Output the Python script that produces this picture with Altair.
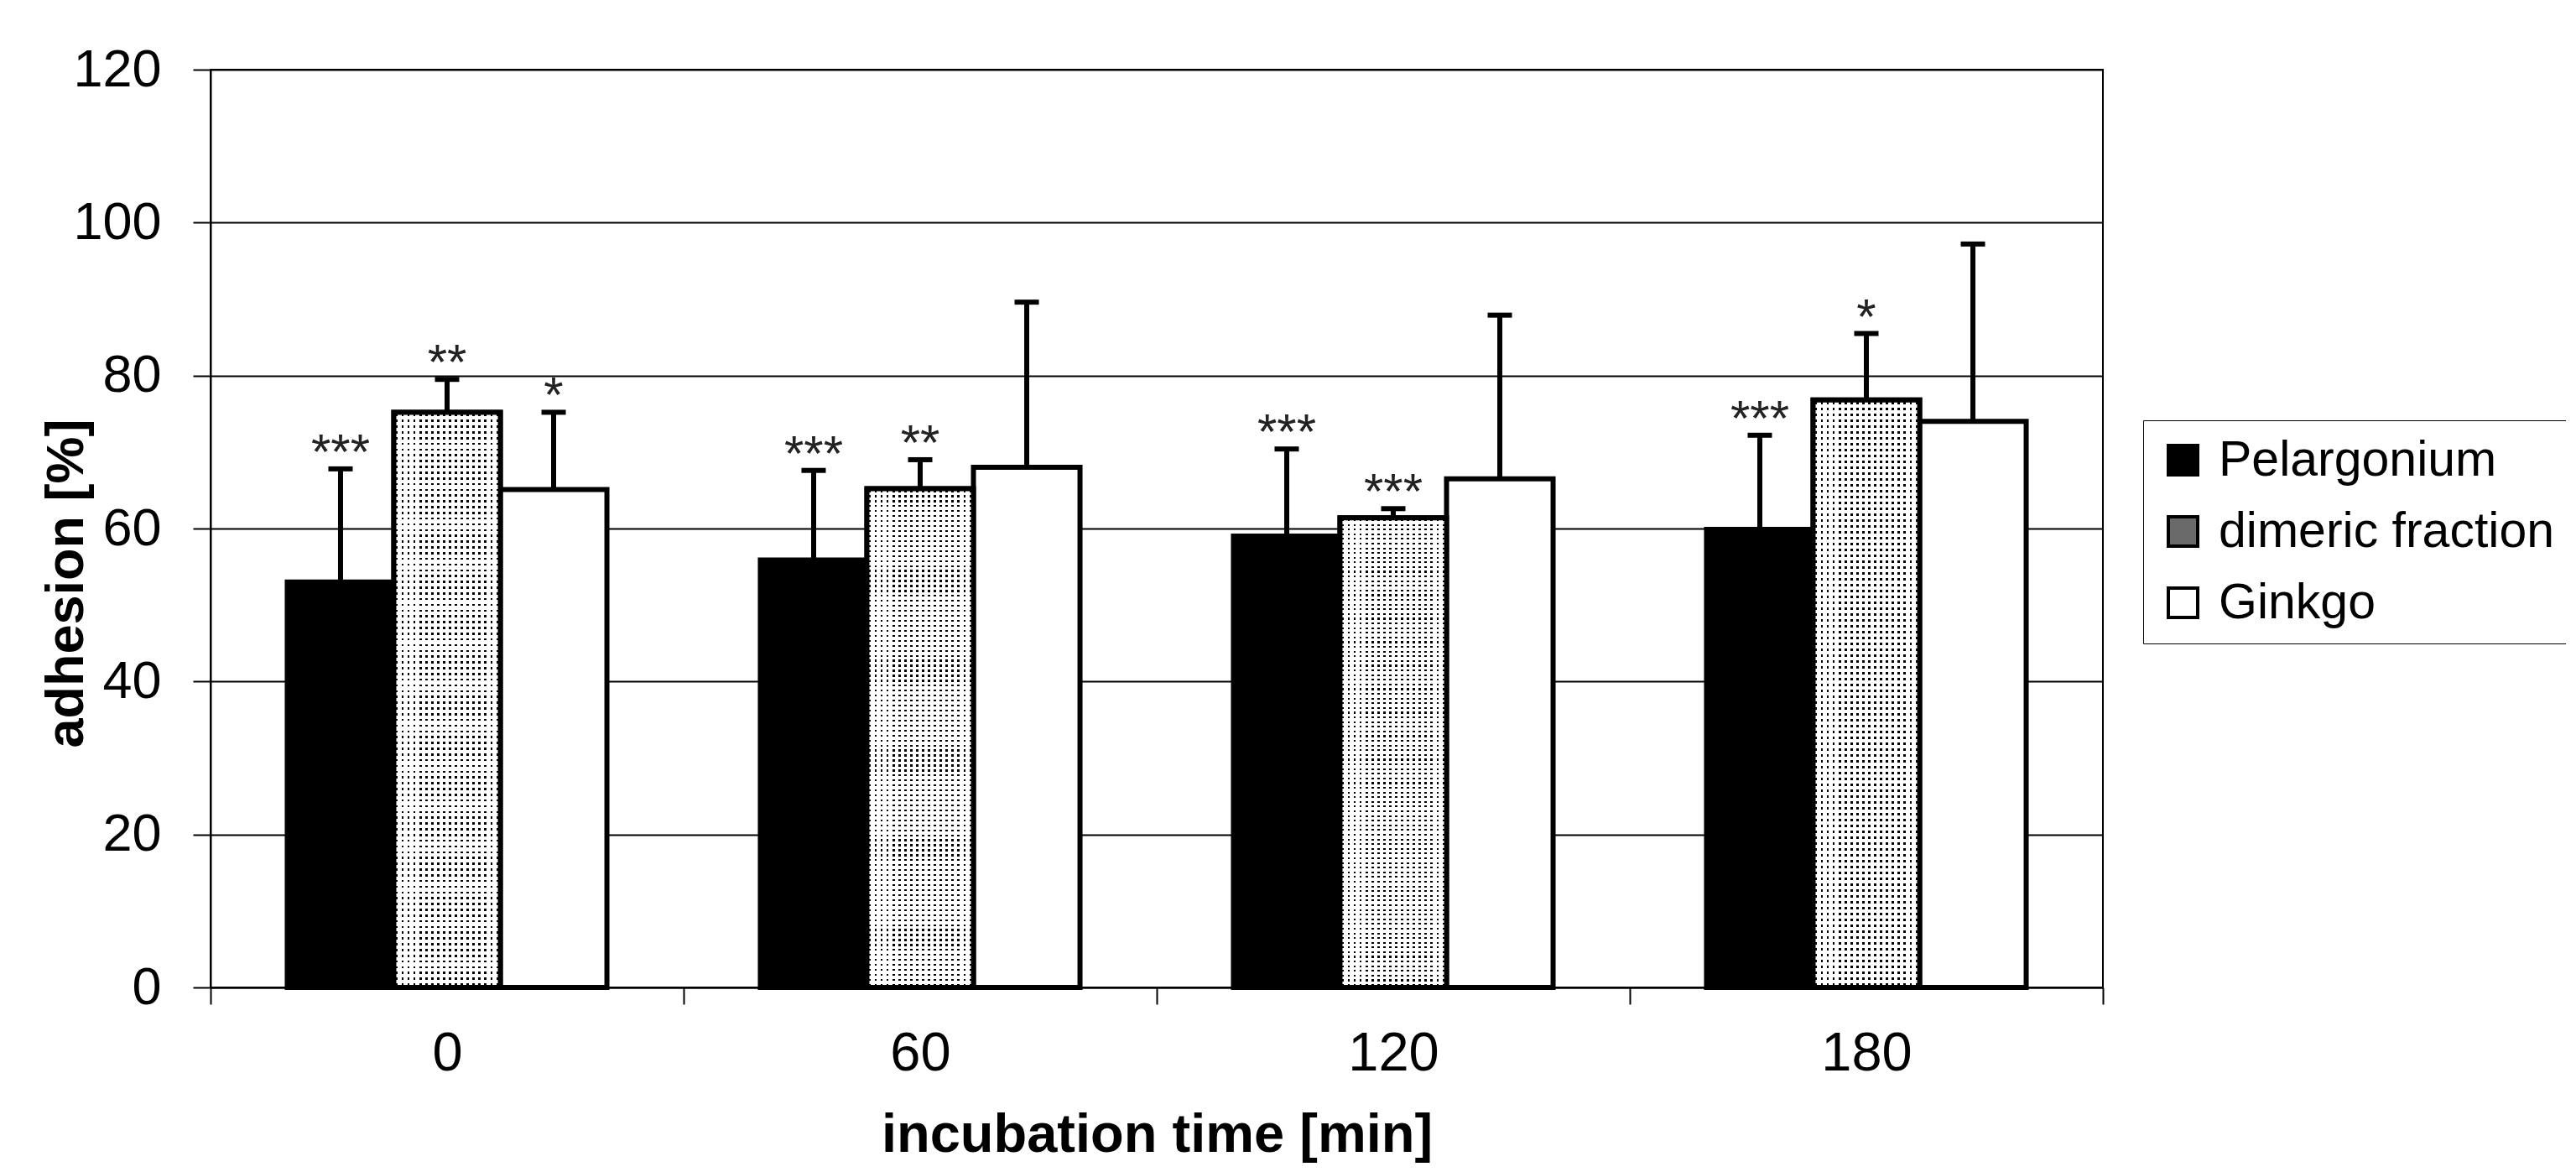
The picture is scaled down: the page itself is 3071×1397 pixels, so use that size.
import altair as alt
import pandas as pd

# ---- data ----
times = ["0", "60", "120", "180"]
series = ["Pelargonium", "dimeric fraction", "Ginkgo"]

pelargonium = [53.0, 55.9, 59.0, 59.9]
pelargonium_sd = [14.8, 11.7, 11.4, 12.3]
pelargonium_sig = ["***", "***", "***", "***"]

dimeric = [75.2, 65.2, 61.4, 76.8]
dimeric_sd = [4.3, 3.8, 1.2, 8.7]
dimeric_sig = ["**", "**", "***", "*"]

ginkgo = [65.1, 68.0, 66.5, 74.0]
ginkgo_sd = [10.1, 21.6, 21.4, 23.2]
ginkgo_sig = ["*", "", "", ""]

y_ticks = [0, 20, 40, 60, 80, 100, 120]

rows = []
for name, vals, sds, sigs in [
    (series[0], pelargonium, pelargonium_sd, pelargonium_sig),
    (series[1], dimeric, dimeric_sd, dimeric_sig),
    (series[2], ginkgo, ginkgo_sd, ginkgo_sig),
]:
    for t, v, s, g in zip(times, vals, sds, sigs):
        rows.append({"time": t, "series": name, "value": v, "top": v + s, "sig": g})
df = pd.DataFrame(rows)

FONT = "Liberation Sans"


# ---- stipple style for the "dimeric fraction" bars (two striped gradients, screen-blended) ----
def stripes(n, a, b, horizontal):
    stops = []
    for i in range(n):
        s = i / n
        stops += [
            alt.GradientStop(offset=s, color="white"),
            alt.GradientStop(offset=s + a / n, color="white"),
            alt.GradientStop(offset=s + a / n, color="black"),
            alt.GradientStop(offset=s + b / n, color="black"),
            alt.GradientStop(offset=s + b / n, color="white"),
            alt.GradientStop(offset=(i + 1) / n, color="white"),
        ]
    if horizontal:
        return alt.LinearGradient(gradient="linear", x1=0, x2=1, y1=0, y2=0, stops=stops)
    return alt.LinearGradient(gradient="linear", x1=0, x2=0, y1=0, y2=1, stops=stops)


x_enc = alt.X(
    "time:N",
    sort=times,
    scale=alt.Scale(paddingInner=0, paddingOuter=0),
    axis=alt.Axis(
        title="incubation time [min]",
        labelAngle=0,
        tickBand="extent",
        tickSize=20,
        tickWidth=2,
        tickColor="black",
        domainColor="black",
        domainWidth=2,
        labelFont=FONT,
        labelFontSize=65,
        labelColor="black",
        labelPadding=27,
        titleFont=FONT,
        titleFontSize=65,
        titleFontWeight="bold",
        titleColor="black",
        titleBaseline="alphabetic",
        titleY=195,
        grid=False,
    ),
)
xo_enc = alt.XOffset(
    "series:N", sort=series, scale=alt.Scale(paddingInner=0, paddingOuter=0.72)
)

y_axis = alt.Axis(
    title="adhesion [%]",
    values=y_ticks,
    grid=True,
    gridColor="black",
    gridWidth=2,
    gridOpacity=1,
    domainColor="black",
    domainWidth=2,
    tickColor="black",
    tickSize=21,
    tickWidth=2,
    labelFont=FONT,
    labelFontSize=63,
    labelColor="black",
    labelPadding=38,
    titleFont=FONT,
    titleFontSize=63,
    titleFontWeight="bold",
    titleColor="black",
    titleBaseline="alphabetic",
    titleAlign="center",
    titleAngle=270,
    titleX=-153,
    titleY=612,
)
y_scale = alt.Scale(domain=[0, 120], nice=False)
y_val = alt.Y("value:Q", scale=y_scale, axis=y_axis)

base = alt.Chart(df)

bars = base.mark_bar(stroke="black", strokeWidth=6).encode(
    x=x_enc,
    xOffset=xo_enc,
    y=y_val,
    color=alt.Color(
        "series:N",
        sort=series,
        scale=alt.Scale(domain=series, range=["#000000", "#6a6a6a", "#ffffff"]),
        legend=alt.Legend(
            title=None,
            orient="none",
            legendX=2304,
            legendY=418,
            symbolType="square",
            symbolSize=1225,
            symbolStrokeColor="black",
            symbolStrokeWidth=4,
            symbolOpacity=1,
            labelFont=FONT,
            labelFontSize=59,
            labelColor="black",
            labelLimit=0,
            labelOffset=13,
            rowPadding=25,
            padding=18,
            fillColor="white",
            strokeColor="black",
        ),
    ),
)

dim = base.transform_filter(alt.datum.series == series[1])
pat_a = dim.mark_bar(fill=stripes(18, 0.3, 0.68, True), strokeWidth=0).encode(
    x=x_enc, xOffset=xo_enc, y=y_val
)
pat_b = dim.mark_bar(
    fill=stripes(100, 0.3, 0.68, False), strokeWidth=0, blend="screen"
).encode(x=x_enc, xOffset=xo_enc, y=y_val)
outline = dim.mark_bar(fillOpacity=0, stroke="black", strokeWidth=6).encode(
    x=x_enc, xOffset=xo_enc, y=y_val
)

err = base.mark_rule(color="black", strokeWidth=6).encode(
    x=x_enc,
    xOffset=xo_enc,
    y=y_val,
    y2="top:Q",
)

caps = base.mark_tick(color="black", size=29, thickness=6, opacity=1).encode(
    x=x_enc,
    xOffset=xo_enc,
    y=alt.Y("top:Q", scale=y_scale, axis=y_axis),
)

stars = base.transform_filter("datum.sig != ''").mark_text(
    font=FONT, fontSize=60, baseline="alphabetic", align="center", dy=0, color="#222222"
).encode(
    x=x_enc,
    xOffset=xo_enc,
    y=alt.Y("top:Q", scale=y_scale, axis=y_axis),
    text="sig:N",
)

chart = (
    alt.layer(bars, pat_a, pat_b, outline, err, caps, stars)
    .properties(
        width=2256,
        height=1094,
        autosize=alt.AutoSizeParams(type="none"),
        padding={"left": 243, "top": 75, "right": 552, "bottom": 211},
        background="white",
    )
    .configure_view(stroke="black", strokeWidth=2)
)

chart.save("out.html", embed_options={"renderer": "svg", "actions": False})
